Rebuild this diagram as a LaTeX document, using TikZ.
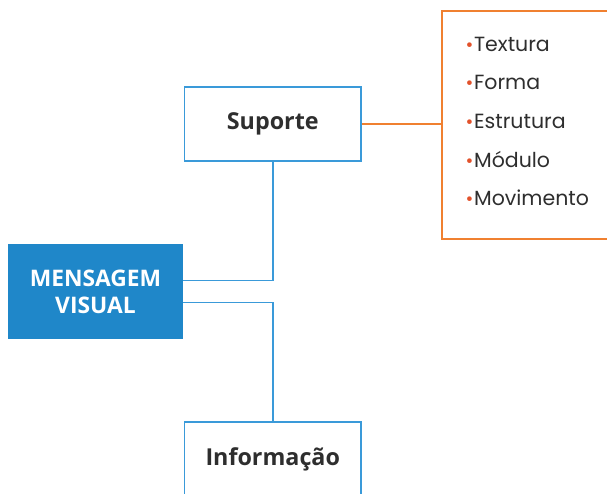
\documentclass[tikz,border=0pt]{standalone}
\usepackage{fontspec}
\setmainfont{Open Sans}
\newfontfamily\listfont{Poppins}
\usetikzlibrary{calc}
\definecolor{boxblue}{HTML}{1F87C9}
\definecolor{lineblue}{HTML}{3A9AD9}
\definecolor{attrorange}{HTML}{F08030}
\definecolor{dotred}{HTML}{E2522B}
\definecolor{ink}{HTML}{2E2E2E}
\tikzset{
  conceptbox/.style={draw=lineblue, line width=1.8pt, fill=white, minimum width=176.5pt,
    minimum height=74pt, inner sep=0pt, text=ink, font=\fontsize{23.3}{28}\selectfont\bfseries},
  mainbox/.style={fill=boxblue, minimum width=175pt, minimum height=95pt, inner sep=0pt,
    text=white, align=center, font=\fontsize{22.8}{27}\selectfont\bfseries},
  link/.style={draw=lineblue, line width=1.8pt},
  attrlink/.style={draw=attrorange, line width=1.8pt},
  attrbox/.style={draw=attrorange, line width=1.8pt, minimum width=190pt, minimum height=228pt, inner sep=0pt},
  item/.style={anchor=west, inner sep=0pt, text=ink, font=\listfont\fontsize{20.5}{24}\selectfont},
}
\newcommand{\dotitem}{{\color{dotred}\fontsize{19}{19}\selectfont\textbullet}\kern0.6pt}
\begin{document}
\begin{tikzpicture}[x=1pt, y=-1pt]
\useasboundingbox (0,0) rectangle (607,493);

\node[mainbox] (msg) at (95.5,291.5) {MENSAGEM\\VISUAL};
\node[conceptbox] (sup) at (272.75,124) {Suporte};
\node[conceptbox] (inf) at (272.75,459) {Informação};
\node[attrbox, anchor=north west] (attr) at (441,10) {};

\node[item] (i1) at (465.5,44) {\dotitem Textura};
\node[item] (i2) at (465.5,82.5) {\dotitem Forma};
\node[item] (i3) at (465.5,121) {\dotitem Estrutura};
\node[item] (i4) at (465.5,159.5) {\dotitem Módulo};
\node[item] (i5) at (465.5,198) {\dotitem Movimento};

\draw[link] ($(msg.east)+(0,-11)$) -| (sup.south);
\draw[link] ($(msg.east)+(0,11)$) -| (inf.north);
\draw[attrlink] (sup.east) -- (sup.east -| attr.west);
\end{tikzpicture}
\end{document}
